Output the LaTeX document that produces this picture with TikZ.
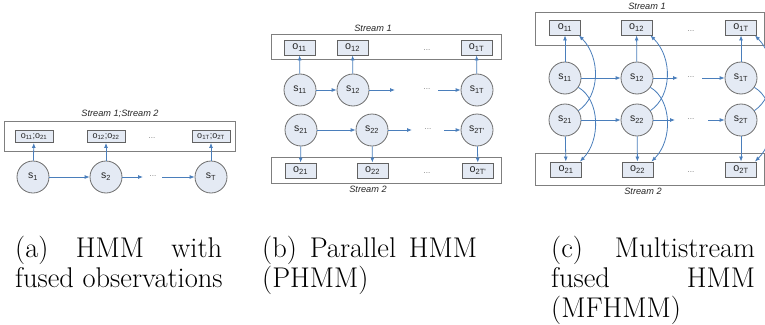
\documentclass[tikz,border=0pt]{standalone}
\usepackage{fontspec}
\newfontfamily\diagfont{Liberation Sans}
\usetikzlibrary{arrows.meta}
\definecolor{nodefill}{HTML}{E4EAF4}
\definecolor{circgray}{HTML}{6E6E6E}
\definecolor{boxgray}{HTML}{626262}
\definecolor{framegray}{HTML}{7F7F7F}
\definecolor{arrowblue}{HTML}{4A7EBB}
\definecolor{dotgray}{HTML}{7A7A7A}
\definecolor{labeltext}{HTML}{262626}
\newcommand\lsub[1]{\textsubscript{#1}}
\begin{document}
\begin{tikzpicture}[x=1pt,y=-1pt,
  stnode/.style={circle,draw=circgray,fill=nodefill,line width=0.8pt,minimum size=32pt,inner sep=0pt,
    font=\diagfont\fontsize{10.5}{12}\selectfont,text=labeltext},
  obs/.style={rectangle,draw=boxgray,fill=nodefill,line width=0.9pt,minimum width=31pt,minimum height=15pt,
    inner sep=0pt,font=\diagfont\fontsize{10.8}{12}\selectfont,text=labeltext},
  obsa/.style={obs,minimum width=38pt,minimum height=12pt,font=\diagfont\fontsize{9}{10}\selectfont},
  frame/.style={draw=framegray,line width=0.8pt},
  flow/.style={draw=arrowblue,line width=0.8pt,-{Latex[length=5pt,width=4pt]}},
  gapdots/.style={font=\diagfont\fontsize{8}{9}\selectfont,text=dotgray,inner sep=0pt},
  streamlbl/.style={font=\diagfont\itshape\fontsize{9.2}{10}\selectfont,text=labeltext,inner sep=0pt},
  capline/.style={font=\fontsize{28.5}{31}\selectfont,anchor=base west,inner sep=0pt}
]
\useasboundingbox (0,0) rectangle (765,324);
\clip (0,0) rectangle (765,324);

% ---------- (a) HMM with fused observations ----------
\node[streamlbl] (lblA) at (120,114) {Stream 1;Stream 2};
\draw[frame] (4,121) rectangle (235,151);
\node[obsa] (oa1) at (34,136.5) {o\lsub{11};o\lsub{21}};
\node[obsa] (oa2) at (106,136.5) {o\lsub{12};o\lsub{22}};
\node[obsa] (oaT) at (211,136.5) {o\lsub{1T};o\lsub{2T}};
\node[gapdots] (doa) at (152,138) {...};
\node[stnode] (sa1) at (33,177) {s\lsub{1}};
\node[stnode] (sa2) at (106,177) {s\lsub{2}};
\node[stnode] (saT) at (211,177) {s\lsub{T}};
\node[gapdots] (dsa) at (153,176) {...};
\coordinate (ga1) at (143,177);
\coordinate (ga2) at (162,177);
\draw[flow] (sa1) -- (sa2);
\draw[flow] (sa2) -- (ga1);
\draw[flow] (ga2) -- (saT);
\foreach \k in {1,2,T} \draw[flow] (sa\k) -- (oa\k);

% ---------- (b) Parallel HMM ----------
\node[streamlbl] (lblB1) at (373,28) {Stream 1};
\node[streamlbl] (lblB2) at (368,189) {Stream 2};
\draw[frame] (271,34) rectangle (501,59);
\draw[frame] (271,157) rectangle (501,183);
\node[obs] (ob11) at (299.5,47.5) {o\lsub{11}};
\node[obs] (ob12) at (352.5,47.5) {o\lsub{12}};
\node[obs] (ob1T) at (476.5,47.5) {o\lsub{1T}};
\node[gapdots] (dob1) at (427,50) {...};
\node[obs] (ob21) at (300.5,170.5) {o\lsub{21}};
\node[obs] (ob22) at (372.5,170.5) {o\lsub{22}};
\node[obs] (ob2T) at (478,170.5) {o\lsub{2T'}};
\node[gapdots] (dob2) at (427,173) {...};
\node[stnode] (sb11) at (300,90) {s\lsub{11}};
\node[stnode] (sb12) at (353,90) {s\lsub{12}};
\node[stnode] (sb1T) at (477,90) {s\lsub{1T}};
\node[stnode] (sb21) at (301,130) {s\lsub{21}};
\node[stnode] (sb22) at (372,130) {s\lsub{22}};
\node[stnode] (sb2T) at (477,130) {s\lsub{2T'}};
\node[gapdots] (dsb1) at (427,89) {...};
\node[gapdots] (dsb2) at (428,129) {...};
\coordinate (gb1) at (395,90);
\coordinate (gb2) at (438,90);
\coordinate (gb3) at (412,130);
\coordinate (gb4) at (444,130);
\draw[flow] (sb11) -- (sb12);
\draw[flow] (sb12) -- (gb1);
\draw[flow] (gb2) -- (sb1T);
\draw[flow] (sb21) -- (sb22);
\draw[flow] (sb22) -- (gb3);
\draw[flow] (gb4) -- (sb2T);
\foreach \k in {11,12,1T,21,22,2T} \draw[flow] (sb\k) -- (ob\k);

% ---------- (c) Multistream fused HMM ----------
\node[streamlbl] (lblC1) at (647,6) {Stream 1};
\node[streamlbl] (lblC2) at (643,191) {Stream 2};
\draw[frame] (535,12) rectangle (764,45);
\draw[frame] (535,153) rectangle (764,185);
\node[obs] (oc11) at (565,27.5) {o\lsub{11}};
\node[obs] (oc12) at (636.5,27.5) {o\lsub{12}};
\node[obs] (oc1T) at (741,27.5) {o\lsub{1T}};
\node[gapdots] (doc1) at (691,31) {...};
\node[obs] (oc21) at (566,169.5) {o\lsub{21}};
\node[obs] (oc22) at (637.5,169.5) {o\lsub{22}};
\node[obs] (oc2T) at (741,169.5) {o\lsub{2T}};
\node[gapdots] (doc2) at (691,172) {...};
\node[stnode] (sc11) at (565,78) {s\lsub{11}};
\node[stnode] (sc12) at (637,78) {s\lsub{12}};
\node[stnode] (sc1T) at (741,78) {s\lsub{1T}};
\node[stnode] (sc21) at (565,120) {s\lsub{21}};
\node[stnode] (sc22) at (637,120) {s\lsub{22}};
\node[stnode] (sc2T) at (741,120) {s\lsub{2T}};
\node[gapdots] (dsc1) at (691,77) {...};
\node[gapdots] (dsc2) at (691,119) {...};
\coordinate (gc1) at (678,78);
\coordinate (gc2) at (702,78);
\coordinate (gc3) at (675,120);
\coordinate (gc4) at (708,120);
\draw[flow] (sc11) -- (sc12);
\draw[flow] (sc12) -- (gc1);
\draw[flow] (gc2) -- (sc1T);
\draw[flow] (sc21) -- (sc22);
\draw[flow] (sc22) -- (gc3);
\draw[flow] (gc4) -- (sc2T);
\foreach \k in {11,12,1T,21,22,2T} \draw[flow] (sc\k) -- (oc\k);
% cross-stream emissions
\foreach \c/\dx in {1/0,2/72,T/176} {
  \draw[flow] (sc2\c.35) .. controls (600+\dx,96) and (601+\dx,58) .. ([xshift=-2pt]oc1\c.south east);
  \draw[flow] (sc1\c.-35) .. controls (600+\dx,100) and (601+\dx,140) .. ([xshift=-2pt]oc2\c.north east);
}

% ---------- captions ----------
\node[capline] (capA1) at (15,257) {\makebox[207pt][s]{(a) HMM with}};
\node[capline] (capA2) at (15,287.5) {fused observations};
\node[capline] (capB1) at (262,257) {\makebox[215pt][s]{(b) Parallel HMM}};
\node[capline] (capB2) at (262,287.5) {(PHMM)};
\node[capline] (capC1) at (551,257) {\makebox[204pt][s]{(c) Multistream}};
\node[capline] (capC2) at (551,287.5) {\makebox[204pt][s]{fused HMM}};
\node[capline] (capC3) at (551,317) {(MFHMM)};
\end{tikzpicture}
\end{document}
